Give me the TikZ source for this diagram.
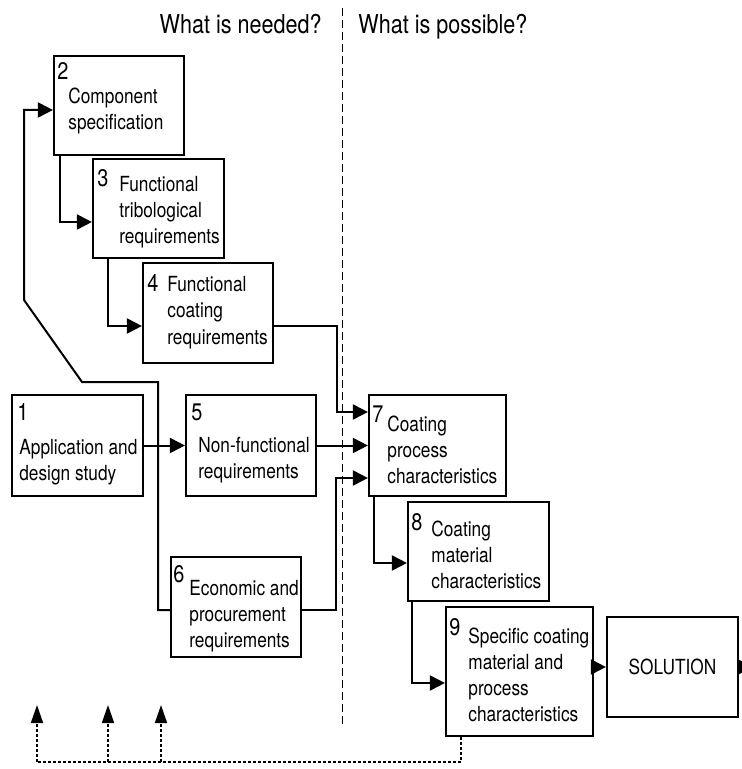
\documentclass[tikz,border=0pt]{standalone}
\usepackage{fontspec}
\setmainfont{TeX Gyre Heros}[FakeStretch=0.83]
\usetikzlibrary{arrows.meta}
\usetikzlibrary{calc}

\begin{document}
\begin{tikzpicture}[x=0.5pt,y=-0.5pt,
	blk/.style={draw,line width=1.1pt,inner sep=0pt},
	txt/.style={anchor=base west,align=left,inner sep=0pt,font=\fontsize{10.4}{13}\selectfont},
	num/.style={anchor=base west,inner sep=0pt,font=\fontsize{12}{12}\selectfont},
	head/.style={inner sep=0pt,font=\fontsize{13}{13}\selectfont},
	link/.style={line width=1pt},
	arr/.style={link,-{Triangle[length=7.5pt,width=7.5pt]}},
	back/.style={line width=0.8pt,dash pattern=on 1.5pt off 1pt},
	backarr/.style={back,-{Triangle[length=9pt,width=6pt]}},
	sep/.style={line width=0.5pt,dash pattern=on 4pt off 2pt}]
	\clip (0,0) rectangle (742,769);
	
	%Overskrifter og skillelinje
	\node[head,anchor=base east] (hneed) at (322,34) {What is needed?};
	\node[head,anchor=base west] (hposs) at (358,34) {What is possible?};
	\coordinate (stop) at (342,8);
	\coordinate (sbot) at (342,726);
	\draw[sep] (stop) -- (sbot);
	
	%Boksene
	\node[blk,minimum width=65pt,minimum height=49.5pt] (b2) at (119,105.5) {};
	\node[blk,minimum width=65.5pt,minimum height=49.5pt] (b3) at (158.5,208.5) {};
	\node[blk,minimum width=65pt,minimum height=50pt] (b4) at (208,313) {};
	\node[blk,minimum width=65.5pt,minimum height=50.5pt] (b1) at (77.5,445.5) {};
	\node[blk,minimum width=65pt,minimum height=50.5pt] (b5) at (251,445.5) {};
	\node[blk,minimum width=65pt,minimum height=50pt] (b6) at (236,607) {};
	\node[blk,minimum width=68.5pt,minimum height=50.5pt] (b7) at (437.5,445.5) {};
	\node[blk,minimum width=70.5pt,minimum height=49.5pt] (b8) at (478.5,551.5) {};
	\node[blk,minimum width=73.5pt,minimum height=64.5pt] (b9) at (519.5,671.5) {};
	\node[blk,minimum width=65.5pt,minimum height=50pt,font=\fontsize{10.4}{13}\selectfont] (sol) at (672.5,667) {SOLUTION};
	
	%Tall og tekst (grunnlinja til siste linje)
	\node[num] (n2) at (57,80) {2};
	\node[txt] (t2) at (68,130) {Component\\specification};
	\node[num] (n3) at (97,187) {3};
	\node[txt] (t3) at (119,244) {Functional\\tribological\\requirements};
	\node[num] (n4) at (147,292) {4};
	\node[txt] (t4) at (167,344) {Functional\\coating\\requirements};
	\node[num] (n1) at (17,420) {1};
	\node[txt] (t1) at (19,480) {Application and\\design study};
	\node[num] (n5) at (191,420) {5};
	\node[txt] (t5) at (198,478) {Non-functional\\requirements};
	\node[num] (n6) at (173,582) {6};
	\node[txt] (t6) at (189,647) {Economic and\\procurement\\requirements};
	\node[num] (n7) at (372,422) {7};
	\node[txt] (t7) at (387,483) {Coating\\process\\characteristics};
	\node[num] (n8) at (411,530) {8};
	\node[txt] (t8) at (431,588) {Coating\\material\\characteristics};
	\node[num] (n9) at (449,635) {9};
	\node[txt] (t9) at (468,721) {Specific coating\\material and\\process\\characteristics};
	
	%Knekkpunkter
	\coordinate (jn) at (158,445.5);
	\coordinate (k1) at (82,382);
	\coordinate (k2) at (24,300);
	\coordinate (k47) at (337,412);
	\coordinate (k67) at (336,478);
	\coordinate (out) at (753,667);
	
	%Pilene
	\draw[arr] ($(b2.south west)+(7,0)$) |- ($(b3.west)+(0,13.5)$);
	\draw[arr] ($(b3.south west)+(16,0)$) |- ($(b4.west)+(0,13)$);
	\draw[arr] ($(b4.east)+(0,13)$) -| (k47) -- ($(b7.west)+(0,-33.5)$);
	\draw[arr] (b1.east) -- (b5.west);
	\draw[arr] ($(b6.west)+(0,3)$) -| (jn) |- (k1) -- (k2) |- ($(b2.west)+(0,4.5)$);
	\draw[arr] (b5.east) -- (b7.west);
	\draw[arr] ($(b6.east)+(0,3)$) -| (k67) -- ($(b7.west)+(0,32.5)$);
	\draw[arr] ($(b7.south west)+(6,0)$) |- ($(b8.west)+(0,11.5)$);
	\draw[arr] ($(b8.south west)+(5,0)$) |- ($(b9.west)+(0,11.5)$);
	\draw[arr] (b9.east |- sol.west) -- (sol.west);
	\draw[arr] (sol.east) -- (out);
	
	%Tilbakekobling
	\coordinate (f1) at (37,762);
	\coordinate (f2) at (108,762);
	\coordinate (f3) at (161,762);
	\coordinate (u1) at (37,705);
	\coordinate (u2) at (108,705);
	\coordinate (u3) at (161,705);
	\draw[back] ($(b9.south west)+(16,0)$) |- (f1);
	\foreach \i in {1,2,3}
		\draw[backarr] (f\i) -- (u\i);
	
\end{tikzpicture}
\end{document}
